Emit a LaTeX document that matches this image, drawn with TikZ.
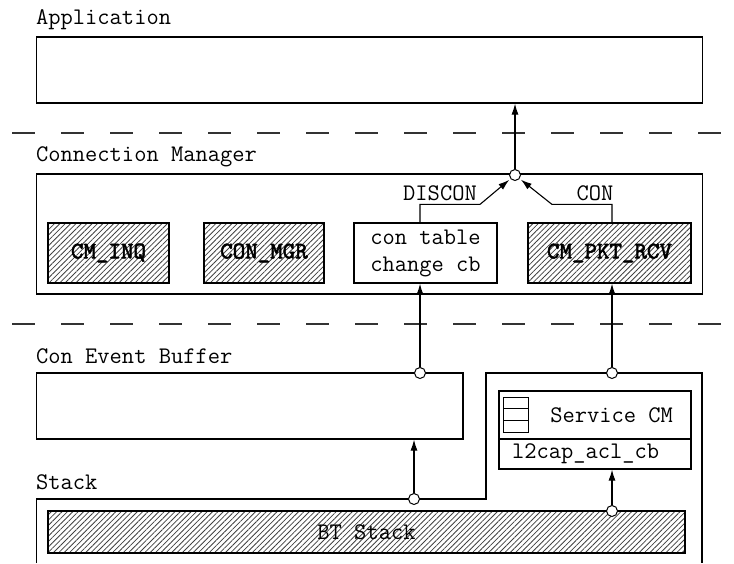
\documentclass[tikz,border=0pt]{standalone}
\usepackage{fontspec}
\newfontfamily\monobold[FakeBold=2.2]{lmmono10-regular.otf}
\usepackage{tikz}
\usetikzlibrary{arrows.meta,patterns.meta}

\begin{document}
\begin{tikzpicture}[x=1pt, y=-1pt, every node/.style={font=\fontsize{23.8}{27}\selectfont\ttfamily}]
      \tikzstyle{box} = [draw, line width=1.2pt, inner sep=0pt]
      \tikzstyle{hatch} = [box, pattern={Lines[angle=45,distance=3.8pt,line width=0.8pt]}, pattern color=black!75, font=\fontsize{23.8}{27}\selectfont\monobold]
      \tikzstyle{lbl} = [anchor=west, inner sep=0pt]
      \tikzstyle{junc} = [circle, draw, fill=white, line width=1pt, minimum size=11pt, inner sep=0pt]
      \tikzstyle{flow} = [-{Latex[length=11pt,width=7pt]}, line width=1.1pt]
      \tikzstyle{layer} = [line width=1.8pt, black!80, dash pattern=on 23pt off 26pt, dash phase=37pt]

      \useasboundingbox (0,0) rectangle (734,563);

      % layer borders
      \draw[layer] (0,133) -- (734,133);
      \draw[layer] (0,324) -- (734,324);

      % application
      \node[lbl] (applbl) at (36,20) {Application};
      \node[box, minimum width=666pt, minimum height=66pt] (app) at (369.25,70) {};

      % connection manager
      \node[lbl] (cmlbl) at (36,157) {Connection Manager};
      \node[box, minimum width=666pt, minimum height=120pt] (cm) at (369.25,234) {};
      \node[hatch, minimum width=121pt, minimum height=60pt] (inq) at (108.5,253) {CM\_INQ};
      \node[hatch, minimum width=120pt, minimum height=60pt] (mgr) at (264,253) {CON\_MGR};
      \node[box, minimum width=143pt, minimum height=60pt, align=center] (contab) at (425.5,253) {con table\\change cb};
      \node[hatch, minimum width=163pt, minimum height=60pt] (pktrcv) at (609.5,253) {CM\_PKT\_RCV};

      % con event buffer
      \node[lbl] (ceblbl) at (36,356) {Con Event Buffer};
      \node[box, minimum width=426.5pt, minimum height=66pt] (ceb) at (249.75,406) {};

      % stack
      \node[lbl] (stacklbl) at (36,482) {Stack};
      \draw[line width=1.2pt] (36.5,563) -- (36.5,499) -- (486,499) -- (486,373) -- (702,373) -- (702,563);
      \node[hatch, minimum width=637pt, minimum height=42pt, font=\fontsize{23.8}{27}\selectfont\ttfamily] (bt) at (366.5,532) {BT Stack};
      \node[box, minimum height=48pt, inner xsep=18pt] (svc) at (595,415) {\makebox[156pt][r]{Service CM}};
      \node[box, minimum height=30pt, inner xsep=13pt] (acl) at (595,454) {\makebox[166pt][l]{l2cap\_acl\_cb}};
      \foreach \k in {0,1,2}
        \draw[line width=1pt] (503.5,397+\k*11.7) rectangle ++(24.5,11.7);

      % junctions
      \node[junc] (j0) at (515,175) {};
      \node[junc] (c1) at (420,373) {};
      \node[junc] (c2) at (612,373) {};
      \node[junc] (c3) at (414,499) {};
      \node[junc] (c4) at (612,511) {};

      % event flow
      \draw[flow] (j0) -- (j0 |- app.south);
      \draw[flow, shorten >=1.5pt] (contab.north -| c1) -- ++(0,-18) -- ++(60,0) -- (j0);
      \draw[flow, shorten >=1.5pt] (pktrcv.north -| c2) -- ++(0,-18) -- ++(-60,0) -- (j0);
      \node (discon) at (440,193) {DISCON};
      \node (con) at (595,193) {CON};
      \draw[flow] (c1) -- (c1 |- contab.south);
      \draw[flow] (c2) -- (c2 |- pktrcv.south);
      \draw[flow] (c3) -- (c3 |- ceb.south);
      \draw[flow] (c4) -- (c4 |- acl.south);
\end{tikzpicture}
\end{document}
